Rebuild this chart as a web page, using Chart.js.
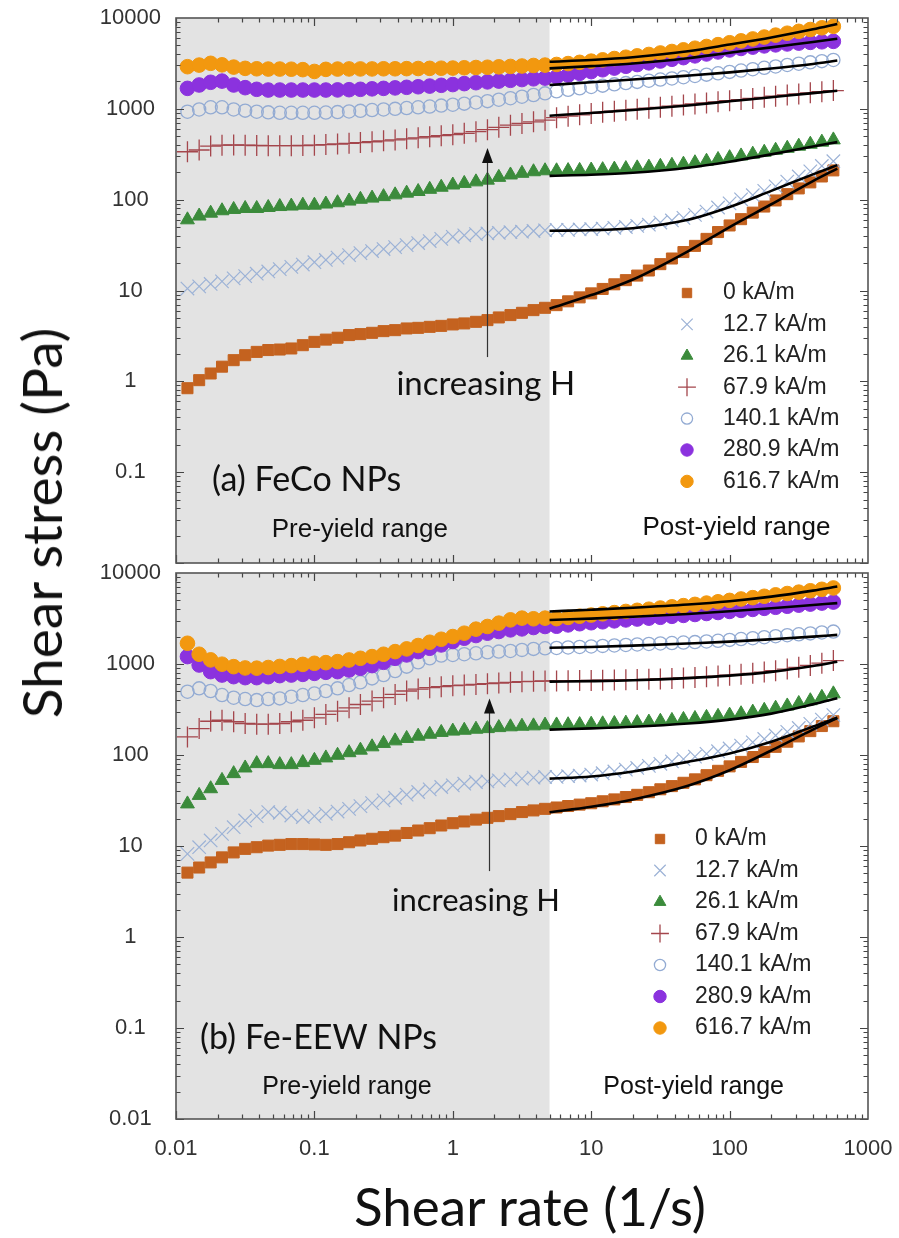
<!DOCTYPE html>
<html>
<head>
<meta charset="utf-8">
<script src="https://cdn.jsdelivr.net/npm/chart.js@4.4.1/dist/chart.umd.min.js"></script>
<style>
  body { margin: 0; background: #fff; width: 899px; height: 1238px; position: relative; overflow: hidden; }
  canvas { position: absolute; left: 0; }
  #topChart { top: -12px; }
  #bottomChart { top: 543px; }
  .ttl { position: absolute; font-family: Lato, sans-serif; color: #111; white-space: nowrap; }
  #ytitle { left: 41px; top: 523px; font-size: 55px; transform: translate(-50%, -50%) rotate(-90deg); }
  #xtitle { left: 530px; top: 1205px; font-size: 53px; transform: translate(-50%, -50%); }
</style>
</head>
<body>
<canvas id="topChart" width="899" height="605"></canvas>
<canvas id="bottomChart" width="899" height="695"></canvas>
<div class="ttl" id="ytitle">Shear stress (Pa)</div>
<div class="ttl" id="xtitle">Shear rate (1/s)</div>
<script>
// shear rates of the measured points (1/s)
const shearRate = [0.0121,0.0147,0.0178,0.0215,0.0261,0.0316,0.0383,0.0464,0.0562,0.0681,0.0825,0.1,
  0.121,0.147,0.178,0.215,0.261,0.316,0.383,0.464,0.562,0.681,0.825,1,
  1.21,1.47,1.78,2.15,2.61,3.16,3.83,4.64,5.62,6.81,8.25,10,
  12.1,14.7,17.8,21.5,26.1,31.6,38.3,46.4,56.2,68.1,82.5,100,
  121,147,178,215,261,316,383,464,562];
// shear rates where the model fits are drawn
const fitRate = [5, 10, 20, 50, 100, 200, 400, 600];
const yieldRate = 5;
const fieldLabels = ['0 kA/m', '12.7 kA/m', '26.1 kA/m', '67.9 kA/m', '140.1 kA/m', '280.9 kA/m', '616.7 kA/m'];
const xTicks = [0.01, 0.1, 1, 10, 100, 1000];
const yTicksTop = [0.1, 1, 10, 100, 1000, 10000];
const yTicksBottom = [0.01, 0.1, 1, 10, 100, 1000, 10000];

// (a) FeCo NPs, shear stress (Pa)
const feco_0 = [0.84,1.03,1.22,1.45,1.71,1.94,2.11,2.21,2.24,2.30,2.50,2.72,2.88,3.02,3.23,3.31,3.42,3.57,3.66,3.82,3.88,3.98,4.08,4.23,4.34,4.52,4.72,5.05,5.36,5.68,6.08,6.45,
  6.9,7.6,8.4,9.3,10.4,11.7,13.0,14.6,16.6,19.5,22.5,26.5,31,37,44,52,61,72,84,98,115,133,155,180,210];
const feco_12_7 = [10.5,11.1,11.8,12.6,13.6,14.4,15.3,16.2,17.2,18.2,19.3,20.5,21.7,23.0,24.5,25.8,27.2,28.6,30.0,31.6,33.3,35.0,37.0,39.0,40.5,41.8,42.5,43.2,43.8,44.4,45.2,46.0,
  46.5,46.5,47,47.5,48,49,50,51.5,53,56,59,63,68,74,82,91,101,112,125,140,158,180,205,235,265];
const feco_26_1 = [60,66,71,75.5,78,80,80,82,84,85,87,87,89.5,92.5,96.5,101,104,108,113,118,123,130,137,145,151,157,164,176,187,195,203,208,
  208,209,210,212,214,217,220,224,228,233,239,246,255,265,277,290,303,317,333,350,368,388,408,430,455];
const feco_67_9 = [337,352,389,398,400,398,395,393,393,393,395,398,404,410,417,425,434,444,455,467,480,493,506,520,537,560,590,625,660,690,720,750,
  800,830,860,890,915,940,965,990,1015,1040,1070,1100,1130,1160,1195,1230,1265,1300,1340,1380,1420,1460,1500,1545,1590];
const feco_140_1 = [930,985,1040,1040,985,955,930,915,905,905,905,905,910,920,935,950,970,985,1000,1020,1040,1060,1085,1110,1140,1175,1215,1260,1310,1360,1420,1480,
  1560,1620,1680,1740,1800,1860,1920,1980,2040,2100,2160,2230,2300,2380,2460,2550,2640,2730,2830,2930,3040,3140,3250,3350,3450];
const feco_280_9 = [1680,1830,1960,2020,1830,1710,1640,1610,1610,1610,1610,1610,1610,1615,1625,1640,1660,1680,1700,1725,1750,1780,1815,1850,1895,1940,1980,2020,2060,2100,2140,2180,
  2250,2350,2460,2570,2690,2810,2940,3070,3210,3360,3510,3660,3830,4020,4230,4450,4620,4780,4930,5060,5180,5290,5390,5470,5530];
const feco_616_7 = [2910,3030,3170,3050,2880,2790,2760,2740,2740,2730,2700,2580,2720,2740,2750,2750,2750,2760,2760,2770,2780,2790,2800,2810,2830,2850,2870,2900,2930,2960,3000,3030,
  3080,3150,3250,3350,3460,3580,3700,3830,3970,4120,4280,4460,4650,4860,5090,5340,5600,5880,6170,6480,6800,7130,7470,7800,8100];

const fecoFit_0 = [6.3, 8.9, 13.2, 27, 50, 89, 160, 220];
const fecoFit_12_7 = [45.5, 46, 48.5, 60, 83, 125, 190, 240];
const fecoFit_26_1 = [183, 188, 198, 225, 262, 315, 385, 430];
const fecoFit_67_9 = [840, 900, 970, 1090, 1210, 1340, 1490, 1580];
const fecoFit_140_1 = [1830, 1960, 2100, 2320, 2520, 2780, 3120, 3400];
const fecoFit_280_9 = [2790, 2950, 3150, 3600, 4150, 4750, 5450, 5900];
const fecoFit_616_7 = [3300, 3450, 3700, 4300, 5100, 6100, 7500, 8600];

// (b) Fe-EEW NPs, shear stress (Pa)
const eew_0 = [5.1,5.8,6.6,7.5,8.5,9.3,9.7,10.1,10.3,10.5,10.5,10.4,10.3,10.5,11.0,11.5,12.0,12.5,13.0,13.9,14.8,15.7,16.8,17.8,18.6,19.5,20.4,21.3,22.4,23.6,24.6,25.6,
  26.5,27.5,28.5,29.5,31,32.5,34.5,36.5,39,42,45.5,49.5,54,60,67,75,84,95,108,123,140,160,183,208,235];
const eew_12_7 = [8.2,9.7,11.5,13.6,16.1,19.1,21.3,23.6,23.2,21.6,20.8,21.3,22.6,23.9,25.6,27.4,29.6,31.7,33.9,36.6,39.2,41.9,44.5,46.4,48.4,50.5,51.3,52.6,54,55,56.4,57.3,
  57.5,58.5,59.5,61,63,66,69,72,76,80,85,90,96,103,110,118,127,138,150,164,180,198,220,245,275];
const eew_26_1 = [29,36,42.6,52.6,62.4,72,80.4,80.4,78.4,78.4,82.5,87.4,92.9,99.3,106,113,123,134,143,152,161,169,177,183,187,192,195,200,204,207,209,213,
  214,215,216,218,220,222,224,227,230,235,240,246,252,259,266,274,284,296,310,327,346,368,395,430,470];
const eew_67_9 = [158,195,235,241,232,222,218,218,222,232,241,256,279,303,330,359,391,426,463,505,530,550,564,578,587,597,608,618,629,640,645,650,
  652,655,658,660,663,666,670,674,678,685,693,702,712,723,737,752,770,790,815,845,880,920,965,1020,1090];
const eew_140_1 = [496,540,505,456,426,412,401,412,419,437,456,475,505,540,587,629,695,756,837,935,1044,1155,1237,1258,1280,1312,1346,1368,1392,1428,1465,1489,
  1500,1520,1540,1560,1580,1600,1620,1640,1660,1680,1700,1720,1740,1770,1800,1840,1880,1920,1970,2020,2070,2120,2170,2220,2270];
const eew_280_9 = [1206,975,824,756,726,708,708,726,745,756,769,789,810,824,859,897,960,1044,1155,1258,1368,1489,1620,1766,1920,2054,2180,2275,2372,2432,2518,2584,
  2600,2690,2770,2840,2910,2980,3050,3120,3190,3260,3340,3420,3500,3590,3680,3780,3880,3980,4090,4200,4310,4430,4550,4670,4790];
const eew_616_7 = [1690,1280,1110,995,935,905,900,915,940,960,990,1018,1035,1062,1107,1155,1206,1280,1368,1465,1596,1734,1871,2003,2180,2414,2584,2810,3055,3190,3140,3190,
  3150,3250,3350,3450,3560,3670,3780,3890,4000,4120,4250,4380,4520,4670,4830,5000,5180,5360,5550,5750,5950,6160,6380,6620,6850];

const eewFit_0 = [23.5, 27, 32.5, 46, 68, 112, 190, 255];
const eewFit_12_7 = [55, 58, 66, 84, 104, 140, 205, 257];
const eewFit_26_1 = [190, 196, 204, 222, 245, 285, 360, 420];
const eewFit_67_9 = [640, 648, 662, 700, 745, 820, 950, 1060];
const eewFit_140_1 = [1510, 1540, 1590, 1680, 1760, 1870, 2000, 2090];
const eewFit_280_9 = [3050, 3150, 3300, 3550, 3800, 4100, 4450, 4670];
const eewFit_616_7 = [3780, 3950, 4150, 4500, 4900, 5500, 6400, 7100];

// marker look per field strength
const markers = [
  { pointStyle: 'rect', radius: 7.8, color: '#c4621f', fill: true, width: 1 },
  { pointStyle: 'crossRot', radius: 9.5, color: '#9cb2d6', fill: false, width: 1.2 },
  { pointStyle: 'triangle', radius: 8, color: '#3b8b3b', fill: true, width: 1 },
  { pointStyle: 'cross', radius: 10.5, color: '#a4464c', fill: false, width: 1.3 },
  { pointStyle: 'circle', radius: 6.6, color: '#93abd3', fill: false, width: 1.3 },
  { pointStyle: 'circle', radius: 7.3, color: '#8b32de', fill: true, width: 1 },
  { pointStyle: 'circle', radius: 7.3, color: '#f2980f', fill: true, width: 1 }
];

const tickFont = { family: '"Liberation Sans", Arial, sans-serif', size: 22 };

function tickLabel(v, list) {
  const hit = list.find(t => Math.abs(t - v) / t < 1e-6);
  return hit === undefined ? '' : String(hit);
}

function buildDatasets(series, fits) {
  const sets = series.map((ys, i) => {
    const m = markers[i];
    return {
      label: fieldLabels[i],
      data: shearRate.map((r, k) => ({ x: r, y: ys[k] })),
      showLine: false,
      pointStyle: m.pointStyle,
      pointRadius: m.radius,
      pointBackgroundColor: m.fill ? m.color : 'rgba(0,0,0,0)',
      pointBorderColor: m.color,
      pointBorderWidth: m.width,
      backgroundColor: m.fill ? m.color : 'rgba(0,0,0,0)',
      borderColor: m.color,
      order: 10 - i
    };
  });
  fits.forEach(f => {
    sets.push({
      label: 'fit',
      data: fitRate.map((r, k) => ({ x: r, y: f[k] })),
      showLine: true,
      pointRadius: 0,
      borderColor: '#000',
      borderWidth: 2.6,
      cubicInterpolationMode: 'monotone',
      fill: false,
      order: 0
    });
  });
  return sets;
}

// shading, box, inner ticks, notes, arrow and legend
const framePlugin = {
  id: 'frame',
  beforeDatasetsDraw(chart) {
    const { ctx, chartArea: a, scales: { x } } = chart;
    const xe = x.getPixelForValue(yieldRate);
    ctx.save();
    ctx.fillStyle = '#e3e3e3';
    ctx.fillRect(a.left, a.top, xe - a.left, a.bottom - a.top);
    ctx.restore();
  },
  afterDatasetsDraw(chart, args, opts) {
    const { ctx, chartArea: a, scales: { x, y } } = chart;
    ctx.save();

    // notes
    opts.notes.forEach(n => {
      ctx.font = n.font;
      ctx.fillStyle = '#111';
      ctx.textAlign = n.align;
      ctx.textBaseline = 'middle';
      ctx.fillText(n.text, x.getPixelForValue(n.x), y.getPixelForValue(n.y));
    });

    // arrow
    const ar = opts.arrow;
    const ax = Math.round(x.getPixelForValue(ar.x)) + 0.5;
    const y0 = y.getPixelForValue(ar.from), y1 = y.getPixelForValue(ar.to);
    ctx.strokeStyle = '#333';
    ctx.lineWidth = 1.2;
    ctx.beginPath(); ctx.moveTo(ax, y0); ctx.lineTo(ax, y1 + 10); ctx.stroke();
    ctx.fillStyle = '#111';
    ctx.beginPath(); ctx.moveTo(ax, y1); ctx.lineTo(ax - 5.5, y1 + 15); ctx.lineTo(ax + 5.5, y1 + 15); ctx.closePath(); ctx.fill();

    // legend
    const lg = opts.legend;
    fieldLabels.forEach((lab, i) => {
      const m = markers[i];
      const ly = a.top + lg.dy + i * lg.step, lx = a.left + lg.dx;
      ctx.fillStyle = m.fill ? m.color : 'rgba(0,0,0,0)';
      ctx.strokeStyle = m.color;
      ctx.lineWidth = m.width;
      Chart.helpers.drawPoint(ctx, { pointStyle: m.pointStyle, radius: m.radius * 0.85, rotation: 0, borderWidth: m.width }, lx, ly);
      ctx.fillStyle = '#222';
      ctx.font = '23px "Liberation Sans", Arial, sans-serif';
      ctx.textAlign = 'left';
      ctx.textBaseline = 'middle';
      ctx.fillText(lab, lx + lg.gap, ly);
    });

    // ticks on all four sides
    ctx.strokeStyle = '#444';
    ctx.lineWidth = 1.2;
    ctx.beginPath();
    for (let e = -2; e < 3; e++) {
      for (let m = 1; m < 10; m++) {
        const px = Math.round(x.getPixelForValue(m * Math.pow(10, e))) + 0.5;
        const len = m === 1 ? 8 : 4.5;
        ctx.moveTo(px, a.bottom); ctx.lineTo(px, a.bottom - len);
        ctx.moveTo(px, a.top); ctx.lineTo(px, a.top + len);
      }
    }
    for (let e = -2; e < 4; e++) {
      for (let m = 1; m < 10; m++) {
        const py = Math.round(y.getPixelForValue(m * Math.pow(10, e))) + 0.5;
        const len = m === 1 ? 8 : 4.5;
        ctx.moveTo(a.left, py); ctx.lineTo(a.left + len, py);
        ctx.moveTo(a.right, py); ctx.lineTo(a.right - len, py);
      }
    }
    ctx.stroke();

    ctx.strokeStyle = '#555';
    ctx.lineWidth = 1.6;
    ctx.strokeRect(a.left, a.top, a.right - a.left, a.bottom - a.top);
    ctx.restore();
  }
};

function buildScales(showX, yTicks) {
  return {
    x: {
      type: 'logarithmic', min: 0.01, max: 1000, display: showX, position: 'bottom',
      grid: { display: false, drawTicks: false }, border: { display: false },
      afterBuildTicks: s => { s.ticks = xTicks.map(v => ({ value: v })); },
      afterFit: s => { s.height = showX ? 119 : 0; s.paddingLeft = 0; s.paddingRight = 0; },
      ticks: { autoSkip: false, maxRotation: 0, padding: 17, color: '#333', font: tickFont,
               callback: v => tickLabel(v, xTicks) }
    },
    y: {
      type: 'logarithmic', min: 0.01, max: 10000, position: 'left',
      grid: { display: false, drawTicks: false }, border: { display: false },
      afterBuildTicks: s => { s.ticks = yTicks.map(v => ({ value: v })); },
      afterFit: s => { s.width = 176; },
      ticks: { autoSkip: false, crossAlign: 'center', padding: 15, color: '#333', font: tickFont,
               callback: v => tickLabel(v, yTicks) }
    }
  };
}

function makePanel(id, series, fits, yTicks, showX, padding, frame) {
  return new Chart(document.getElementById(id), {
    type: 'scatter',
    data: { datasets: buildDatasets(series, fits) },
    options: {
      responsive: false, animation: false, devicePixelRatio: 1, events: [],
      layout: { padding },
      plugins: { legend: { display: false }, tooltip: { enabled: false }, frame },
      scales: buildScales(showX, yTicks)
    },
    plugins: [framePlugin]
  });
}

makePanel('topChart',
  [feco_0, feco_12_7, feco_26_1, feco_67_9, feco_140_1, feco_280_9, feco_616_7],
  [fecoFit_0, fecoFit_12_7, fecoFit_26_1, fecoFit_67_9, fecoFit_140_1, fecoFit_280_9, fecoFit_616_7],
  yTicksTop, false, { left: 0, right: 31, top: 30, bottom: 30 },
  {
    notes: [
      { text: '(a) FeCo NPs', x: 0.0182, y: 0.0817, font: '34px Lato', align: 'left' },
      { text: 'Pre-yield range', x: 0.213, y: 0.023, font: '26px "Liberation Sans", Arial', align: 'center' },
      { text: 'Post-yield range', x: 112, y: 0.0242, font: '26px "Liberation Sans", Arial', align: 'center' },
      { text: 'increasing H', x: 1.73, y: 0.93, font: '33px Lato', align: 'center' }
    ],
    arrow: { x: 1.77, from: 1.85, to: 370 },
    legend: { dx: 511, dy: 275, step: 31.4, gap: 36 }
  });

makePanel('bottomChart',
  [eew_0, eew_12_7, eew_26_1, eew_67_9, eew_140_1, eew_280_9, eew_616_7],
  [eewFit_0, eewFit_12_7, eewFit_26_1, eewFit_67_9, eewFit_140_1, eewFit_280_9, eewFit_616_7],
  yTicksBottom, true, { left: 0, right: 31, top: 30, bottom: 0 },
  {
    notes: [
      { text: '(b) Fe-EEW NPs', x: 0.0149, y: 0.0785, font: '34px Lato', align: 'left' },
      { text: 'Pre-yield range', x: 0.172, y: 0.0226, font: '25px "Liberation Sans", Arial', align: 'center' },
      { text: 'Post-yield range', x: 55, y: 0.0224, font: '25px "Liberation Sans", Arial', align: 'center' },
      { text: 'increasing H', x: 1.47, y: 2.48, font: '31px Lato', align: 'center' }
    ],
    arrow: { x: 1.82, from: 5.3, to: 419 },
    legend: { dx: 484, dy: 266, step: 31.5, gap: 35 }
  });
</script>
</body>
</html>
